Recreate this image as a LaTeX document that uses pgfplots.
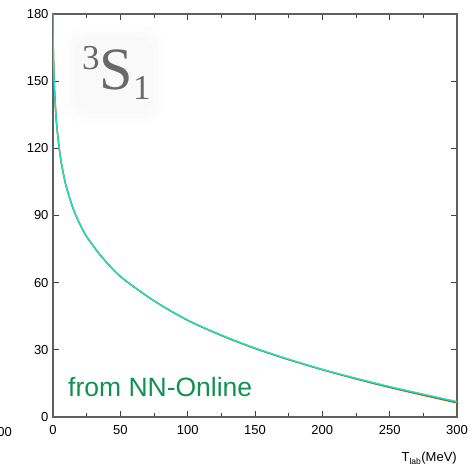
\documentclass[border=0pt]{standalone}
\usepackage{pgfplots}
\pgfplotsset{compat=1.18}
\usepackage{pgfplotstable}
\usepackage{fontspec}
\setmainfont{Liberation Sans}
\newfontfamily\serifface{Liberation Serif}

\definecolor{curvecyan}{RGB}{32,226,200}
\definecolor{curvegreen}{RGB}{40,175,60}
\definecolor{curvered}{RGB}{225,60,40}
\definecolor{nngreen}{RGB}{16,145,80}
\definecolor{framegray}{RGB}{95,95,95}
\definecolor{labelgray}{RGB}{105,105,105}

% 3S1 np phase shift (degrees) against T_lab (MeV)
\pgfplotstableread{
T      red    green  cyan
0      180.0  180.0  180.0
0.02   175.2  175.2  175.2
0.05   172.4  172.4  172.4
0.1    169.3  169.3  169.3
0.2    164.9  164.9  164.9
0.5    156.6  156.6  156.6
1      147.7  147.7  147.7
2      136.4  136.4  136.4
3      128.8  128.8  128.8
5      118.2  118.2  118.2
7      110.8  110.8  110.8
10     102.6  102.6  102.6
15     93.0   93.0   93.0
20     86.1   86.1   86.1
25     80.6   80.6   80.6
35     72.4   72.4   72.4
50     62.8   62.8   62.8
75     51.9   51.9   51.9
100    43.2   43.2   43.3
125    36.4   36.5   36.6
150    30.6   30.7   30.8
175    25.6   25.7   25.8
200    21.1   21.2   21.3
225    17.0   17.2   17.3
250    13.2   13.4   13.6
275    9.7    10.0   10.2
300    6.3    6.6    6.9
}\phasetable

\begin{document}
\begin{tikzpicture}
\useasboundingbox (-53pt,-51pt) rectangle (416pt,417pt);
\begin{axis}[
  at={(0pt,0pt)}, anchor=south west,
  scale only axis, width=404pt, height=403pt,
  xmin=0, xmax=300, ymin=0, ymax=180,
  xtick={0,50,...,300}, minor xtick={25,75,...,275},
  ytick={0,30,...,180},
  tick align=inside,
  major tick length=6pt, minor tick length=4pt,
  axis line style={framegray, line width=1.3pt},
  every tick/.style={black!75, line width=0.9pt},
  tick label style={font=\fontsize{13}{13}\selectfont},
  /pgf/number format/assume math mode=true,
  xticklabel style={yshift=-5pt},
  yticklabel style={xshift=-1pt},
  clip=true,
]
  \addplot[curvered, line width=1.4pt, smooth] table[x=T, y=red] {\phasetable};
  \addplot[curvegreen, line width=1.4pt, smooth] table[x=T, y=green] {\phasetable};
  \addplot[curvecyan, line width=1.3pt, smooth] table[x=T, y=cyan] {\phasetable};
\end{axis}

% faint backdrop behind the partial-wave label
\fill[black, opacity=0.006, rounded corners=24pt] (10pt,292pt) rectangle (112pt,392pt);
\fill[black, opacity=0.008, rounded corners=20pt] (16pt,298pt) rectangle (106pt,386pt);
\fill[black, opacity=0.008, rounded corners=16pt] (22pt,304pt) rectangle (100pt,380pt);

\node[anchor=base west, inner sep=0pt, text=labelgray] at (29pt,327pt)
  {\serifface\fontsize{35}{35}\selectfont\raisebox{20pt}{3}\fontsize{60}{60}\selectfont S\fontsize{35}{35}\selectfont\raisebox{-10pt}{1}};

\node[anchor=base west, inner sep=0pt, text=nngreen] at (15pt,20pt)
  {\fontsize{26.5}{26.5}\selectfont from NN-Online};

\node[anchor=base east, inner sep=0pt] at (404pt,-45pt)
  {\fontsize{13}{13}\selectfont T\textsubscript{\fontsize{8.5}{8.5}\selectfont lab}(MeV)};

% tick label of the neighbouring panel, cut by the frame edge
\node[anchor=base east, inner sep=0pt] at (-41pt,-20pt)
  {\fontsize{13}{13}\selectfont 300};
\end{tikzpicture}
\end{document}
